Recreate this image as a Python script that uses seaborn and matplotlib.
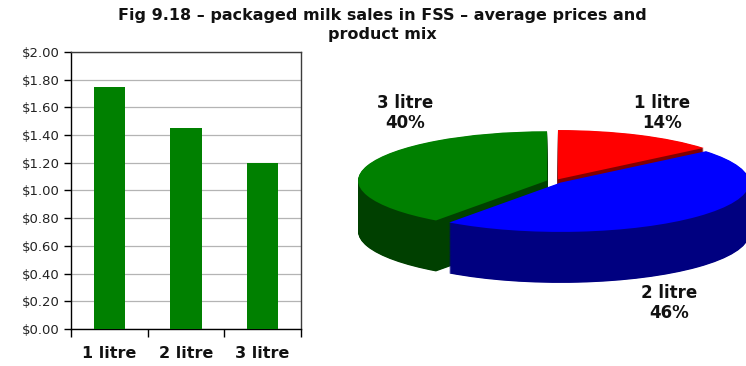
import matplotlib
matplotlib.use("Agg")
import matplotlib.pyplot as plt
from matplotlib.ticker import FuncFormatter, MultipleLocator, FixedLocator
import seaborn as sns

# Average price per pack size
sizes = ["1 litre", "2 litre", "3 litre"]
avg_price = [1.75, 1.45, 1.20]

# Share of sales volume by pack size (%)
mix_share = [14, 46, 40]

title = "Fig 9.18 \u2013 packaged milk sales in FSS \u2013 average prices and\nproduct mix"

bar_green = "#008000"
top_colors = ["#ff0000", "#0000ff", "#008000"]
side_colors = ["#800000", "#000080", "#004000"]

sns.set_theme(style="white")
plt.rcParams["font.family"] = ["DejaVu Sans"]

W, H = 746, 366
fig = plt.figure(figsize=(W / 100, H / 100), dpi=100)
fig.patch.set_facecolor("white")

# ---- bar chart of average prices ----
ax = fig.add_axes([71 / W, (H - 329) / H, 230 / W, 277 / H])
sns.barplot(x=sizes, y=avg_price, color=bar_green, saturation=1,
            width=0.41, ax=ax, zorder=3, linewidth=0, edgecolor=bar_green)
ax.set_xlim(-0.5, 2.5)
ax.set_ylim(0, 2.0)
ax.yaxis.set_major_locator(MultipleLocator(0.2))
ax.yaxis.set_major_formatter(FuncFormatter(lambda v, p: f"${v:.2f}"))
ax.grid(axis="y", color="#b4b4b4", linewidth=0.9, zorder=0)
ax.set_axisbelow(True)
ax.set_xlabel("")
ax.set_ylabel("")
for side in ("left", "bottom"):
    ax.spines[side].set_color("black")
    ax.spines[side].set_linewidth(1.0)
for side in ("top", "right"):
    ax.spines[side].set_color("#3c3c3c")
    ax.spines[side].set_linewidth(1.0)
ax.tick_params(axis="y", direction="out", length=5, width=1, color="black",
               labelsize=9.5, labelcolor="#222222", pad=3, left=True)
ax.xaxis.set_minor_locator(FixedLocator([-0.5, 0.5, 1.5, 2.5]))
ax.tick_params(axis="x", which="major", length=0, pad=12)
ax.tick_params(axis="x", which="minor", direction="out", length=6, width=1,
               color="black", bottom=True)
for lab in ax.get_xticklabels():
    lab.set_fontweight("bold")
    lab.set_fontsize(11.5)
    lab.set_color("#111111")

# ---- extruded pie of the product mix ----
pax = fig.add_axes([330 / W, 0, 416 / W, 1])
rx, ry = 189.0, 49.3          # pixel radii of the elliptical top face
cx, cy = 224.6, H - 181.2     # centre in pixels inside this axes
depth = 51.0 / ry             # wall height in data units
explode = [0.042] * len(mix_share)

n_layers = 90
for i in range(n_layers, 0, -1):
    z = depth * i / n_layers
    pax.pie(mix_share, colors=side_colors, startangle=90, counterclock=False,
            explode=explode, radius=1.0, center=(0, -z),
            wedgeprops=dict(linewidth=0, antialiased=True))
pax.pie(mix_share, colors=top_colors, startangle=90, counterclock=False,
        explode=explode, radius=1.0, center=(0, 0),
        wedgeprops=dict(linewidth=0, antialiased=True))
pax.set_aspect("auto")
pax.set_xlim(-cx / rx, (416 - cx) / rx)
pax.set_ylim(-cy / ry, (H - cy) / ry)
pax.set_axis_off()

label_pos = [(662, 113), (669, 303), (405, 113)]
for name, share, (px, py) in zip(sizes, mix_share, label_pos):
    fig.text(px / W, 1 - py / H, f"{name}\n{share}%", ha="center", va="center",
             fontsize=12, fontweight="bold", color="#111111", linespacing=1.2)

fig.text(382 / W, 1 - 25 / H, title, ha="center", va="center", fontsize=11.5,
         fontweight="bold", color="#111111", linespacing=1.4)

fig.savefig("out.png", dpi=100, facecolor="white")
